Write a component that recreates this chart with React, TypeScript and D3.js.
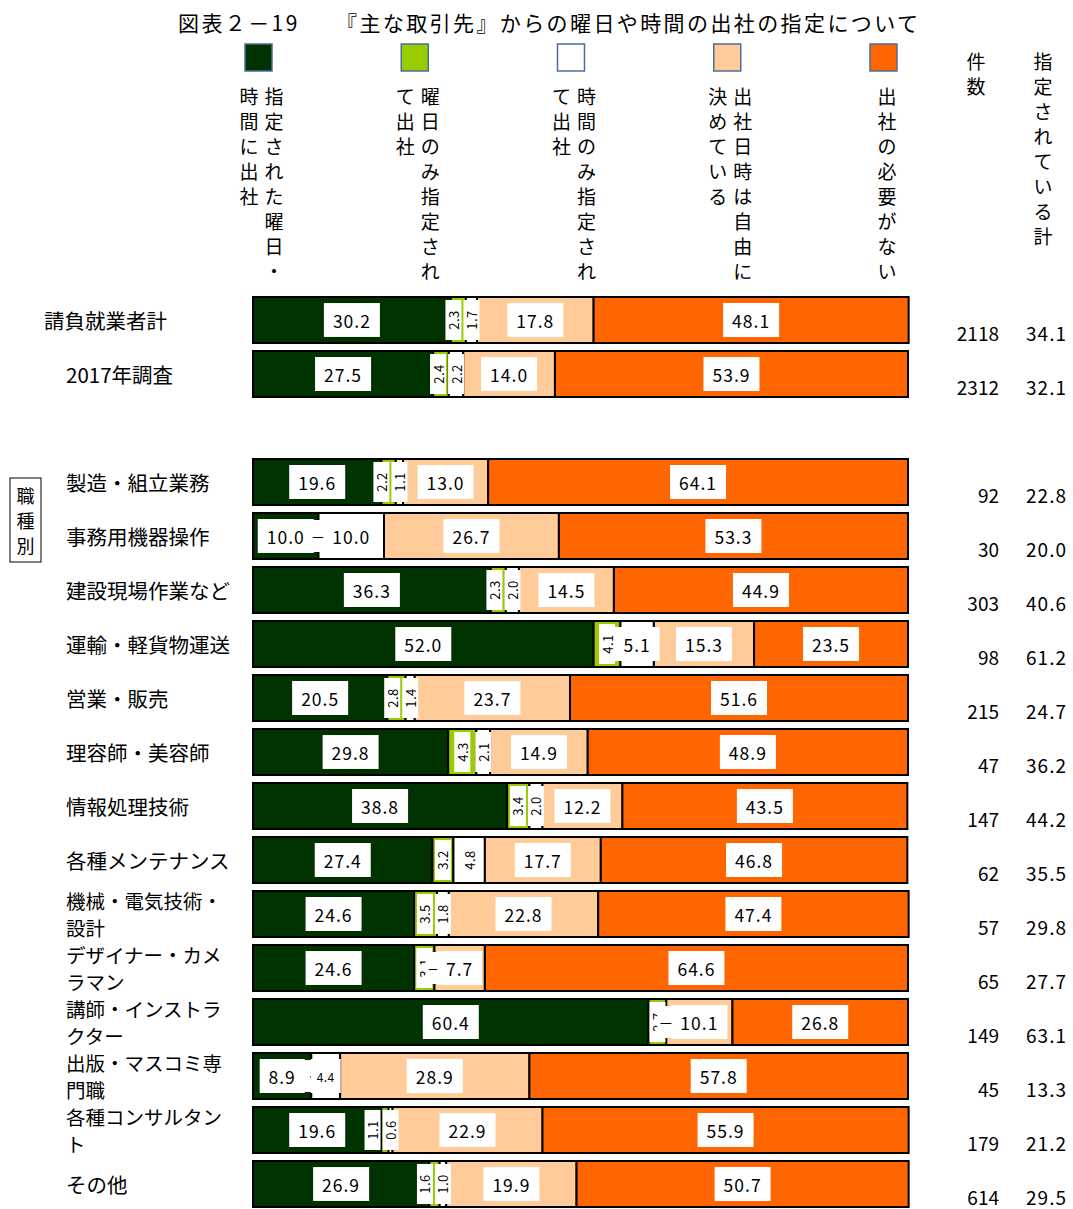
import * as d3 from "d3";

const CATEGORIES = [
  "請負就業者計",
  "2017年調査",
  "製造・組立業務",
  "事務用機器操作",
  "建設現場作業など",
  "運輸・軽貨物運送",
  "営業・販売",
  "理容師・美容師",
  "情報処理技術",
  "各種メンテナンス",
  "機械・電気技術・設計",
  "デザイナー・カメラマン",
  "講師・インストラクター",
  "出版・マスコミ専門職",
  "各種コンサルタント",
  "その他",
];

// 指定された曜日・時間に出社
const DAY_AND_TIME = [30.2, 27.5, 19.6, 10.0, 36.3, 52.0, 20.5, 29.8, 38.8, 27.4, 24.6, 24.6, 60.4, 8.9, 19.6, 26.9];
// 曜日のみ指定されて出社
const DAY_ONLY = [2.3, 2.4, 2.2, 0, 2.3, 4.1, 2.8, 4.3, 3.4, 3.2, 3.5, 3.1, 2.7, 0, 1.1, 1.6];
// 時間のみ指定されて出社
const TIME_ONLY = [1.7, 2.2, 1.1, 10.0, 2.0, 5.1, 1.4, 2.1, 2.0, 4.8, 1.8, 0, 0, 4.4, 0.6, 1.0];
// 出社日時は自由に決めている
const FREE = [17.8, 14.0, 13.0, 26.7, 14.5, 15.3, 23.7, 14.9, 12.2, 17.7, 22.8, 7.7, 10.1, 28.9, 22.9, 19.9];
// 出社の必要がない
const NO_NEED = [48.1, 53.9, 64.1, 53.3, 44.9, 23.5, 51.6, 48.9, 43.5, 46.8, 47.4, 64.6, 26.8, 57.8, 55.9, 50.7];

const COUNTS = [2118, 2312, 92, 30, 303, 98, 215, 47, 147, 62, 57, 65, 149, 45, 179, 614];
const TOTALS = [34.1, 32.1, 22.8, 20.0, 40.6, 61.2, 24.7, 36.2, 44.2, 35.5, 29.8, 27.7, 63.1, 13.3, 21.2, 29.5];

const KEYS = ["dayTime", "dayOnly", "timeOnly", "free", "noNeed"];
const SERIES_LABELS = [
  ["指定された曜日・", "時間に出社"],
  ["曜日のみ指定され", "て出社"],
  ["時間のみ指定され", "て出社"],
  ["出社日時は自由に", "決めている"],
  ["出社の必要がない"],
];
const COLORS = ["#003300", "#99cc00", "#ffffff", "#ffcc99", "#ff6600"];

const TITLE = "図表２－19　　『主な取引先』からの曜日や時間の出社の指定について";
const FONT = "'Noto Sans CJK JP', 'Noto Sans', sans-serif";

const W = 1073;
const H = 1209;

export default function App() {
  const rows = CATEGORIES.map((c, i) => ({
    cat: c,
    dayTime: DAY_AND_TIME[i],
    dayOnly: DAY_ONLY[i],
    timeOnly: TIME_ONLY[i],
    free: FREE[i],
    noNeed: NO_NEED[i],
  }));

  // slots: first two rows, an empty gap, then the occupations
  const slots = [CATEGORIES[0], CATEGORIES[1], "__gap", ...CATEGORIES.slice(2)];
  const y = d3.scaleBand<string>().domain(slots).range([293, 1211]).paddingInner(0.148).paddingOuter(0.074);
  const x = d3.scaleLinear().domain([0, 100]).range([253, 908]);
  const stacked = d3.stack<any>().keys(KEYS)(rows);

  const bw = y.bandwidth();

  const wrap = (s: string) => (s.length > 8 ? [s.slice(0, 8), s.slice(8)] : [s]);

  // label centres per row; push adjacent rotated labels apart
  const centers = rows.map((_, ri) => stacked.map((layer) => (x(layer[ri][0]) + x(layer[ri][1])) / 2));
  rows.forEach((r, ri) => {
    const vals = KEYS.map((k) => (r as any)[k] as number);
    for (let si = 2; si >= 1; si--) {
      const a = vals[si - 1];
      const b = vals[si];
      if (a > 0 && a < 5 && b > 0 && b < 5 && centers[ri][si] - centers[ri][si - 1] < 18) {
        centers[ri][si - 1] = centers[ri][si] - 18;
      }
    }
  });

  const labels: JSX.Element[] = [];
  stacked.forEach((layer, si) => {
    layer.forEach((seg, ri) => {
      const v = seg[1] - seg[0];
      const cy = (y(CATEGORIES[ri]) ?? 0) + bw / 2;
      const cx = centers[ri][si];
      const key = `l-${si}-${ri}`;
      const prevZero = si > 0 && (rows[ri] as any)[KEYS[si - 1]] === 0;
      if (v === 0) {
        labels.push(
          <g key={key}>
            <rect x={cx - 9} y={cy - 16} width={18} height={32} fill="#fff" />
            <text x={cx} y={cy} textAnchor="middle" dominantBaseline="central" fontSize={16}>
              {si === 1 && rows[ri].dayTime < 9 ? "·" : "－"}
            </text>
          </g>
        );
      } else if (v < 5 && !(prevZero && v >= 4)) {
        labels.push(
          <g key={key} transform={`translate(${cx},${cy})`}>
            <rect x={-8} y={-20} width={16} height={40} fill="#fff" />
            <text
              transform="rotate(-90)"
              textAnchor="middle"
              dominantBaseline="central"
              fontSize={13}
              letterSpacing={0.5}
            >
              {v.toFixed(1)}
            </text>
          </g>
        );
      } else {
        const t = v.toFixed(1);
        const small = v < 5;
        const w = small ? 30 : t.length * 11 + 12;
        labels.push(
          <g key={key}>
            <rect x={cx - w / 2} y={cy - 17} width={w} height={34} fill="#fff" />
            <text
              x={cx}
              y={cy}
              textAnchor="middle"
              dominantBaseline="central"
              fontSize={small ? 12 : 17.5}
              letterSpacing={small ? 0.5 : 1}
            >
              {t}
            </text>
          </g>
        );
      }
    });
  });

  const legendX = d3.scaleLinear().domain([0, 4]).range([258, 883]);

  return (
    <svg width={W} height={H} style={{ display: "block", position: "absolute", left: 0, top: 0 }} fontFamily={FONT}>
      <rect width={W} height={H} fill="#fff" />
      <text
        x={178}
        y={22}
        fontSize={21}
        dominantBaseline="central"
        fill="#000"
        textLength={740}
        lengthAdjust="spacing"
      >
        {TITLE}
      </text>

      {/* legend */}
      {SERIES_LABELS.map((cols, i) => {
        const lx = legendX(i);
        return (
          <g key={`lg-${i}`}>
            <rect x={lx - 13} y={44} width={27} height={27} fill={COLORS[i]} stroke="#4a6e9c" strokeWidth={1.5} />
            {cols.map((col, ci) =>
              Array.from(col).map((ch, k) => (
                <text
                  key={`${ci}-${k}`}
                  x={cols.length === 1 ? lx + 4 : lx + 16 - ci * 25}
                  y={95 + k * 25}
                  fontSize={19}
                  textAnchor="middle"
                  dominantBaseline="central"
                >
                  {ch}
                </text>
              ))
            )}
          </g>
        );
      })}

      {/* right column headers */}
      {Array.from("件数").map((ch, k) => (
        <text key={`h1-${k}`} x={976} y={60 + k * 25} fontSize={19} textAnchor="middle" dominantBaseline="central">
          {ch}
        </text>
      ))}
      {Array.from("指定されている計").map((ch, k) => (
        <text key={`h2-${k}`} x={1043} y={60 + k * 25} fontSize={19} textAnchor="middle" dominantBaseline="central">
          {ch}
        </text>
      ))}

      {/* 職種別 box */}
      <rect x={10} y={478} width={31} height={84} fill="none" stroke="#000" strokeWidth={1} />
      {Array.from("職種別").map((ch, k) => (
        <text key={`sk-${k}`} x={25.5} y={495 + k * 25} fontSize={18} textAnchor="middle" dominantBaseline="central">
          {ch}
        </text>
      ))}

      {/* bars */}
      {stacked.map((layer, si) => (
        <g key={`s-${si}`}>
          {layer.map((seg, ri) => (
            <rect
              key={`r-${si}-${ri}`}
              x={x(seg[0])}
              y={y(CATEGORIES[ri])}
              width={x(seg[1]) - x(seg[0])}
              height={bw}
              fill={COLORS[si]}
              stroke="#000"
              strokeWidth={2}
            />
          ))}
        </g>
      ))}

      {labels}

      {/* category labels */}
      {CATEGORIES.map((c, i) => {
        const cy = (y(c) ?? 0) + bw / 2;
        const lines = wrap(c);
        const lx = i === 0 ? 44 : 66;
        return lines.map((ln, k) => (
          <text
            key={`c-${i}-${k}`}
            x={lx}
            y={lines.length === 1 ? cy : cy - 13.5 + k * 27}
            fontSize={lines.length === 1 ? 20.5 : 19.5}
            dominantBaseline="central"
          >
            {ln}
          </text>
        ));
      })}

      {/* counts and totals */}
      {CATEGORIES.map((c, i) => {
        const cy = (y(c) ?? 0) + bw / 2 + 12;
        return (
          <g key={`n-${i}`}>
            <text x={999} y={cy} fontSize={19} textAnchor="end" dominantBaseline="central">
              {COUNTS[i]}
            </text>
            <text x={1067} y={cy} fontSize={19} textAnchor="end" dominantBaseline="central" letterSpacing={1}>
              {TOTALS[i].toFixed(1)}
            </text>
          </g>
        );
      })}
    </svg>
  );
}
